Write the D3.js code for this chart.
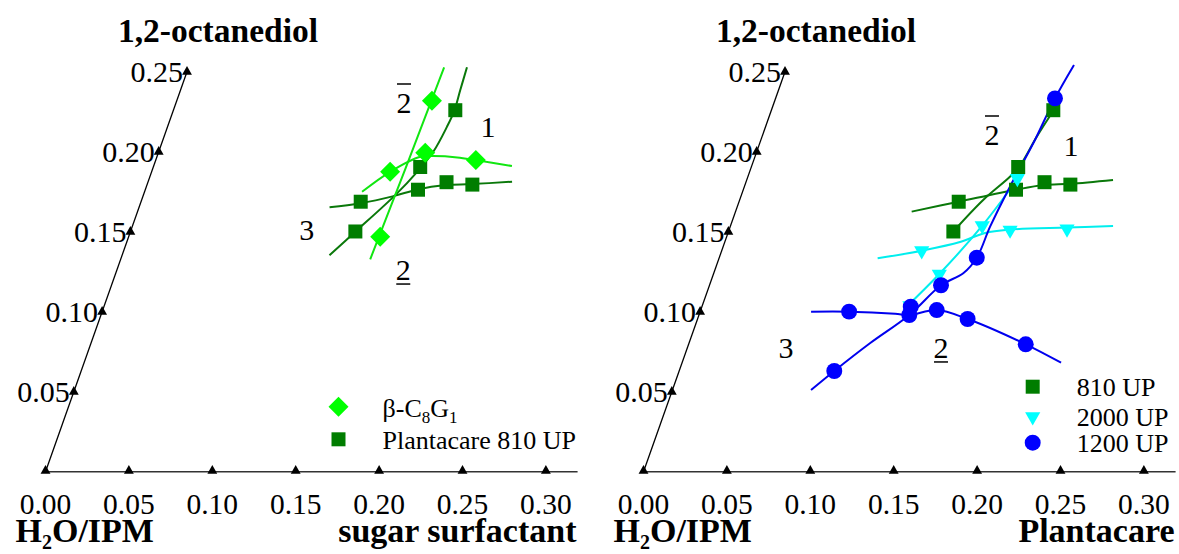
<!DOCTYPE html>
<html>
<head>
<meta charset="utf-8">
<script src="https://cdn.jsdelivr.net/npm/d3@7"></script>
<style>
  html, body { margin: 0; padding: 0; background: #fff; }
  svg { display: block; }
  text { font-family: "Liberation Serif", "Times New Roman", serif; fill: #000; }
</style>
</head>
<body>
<svg id="chart" width="1179" height="554"></svg>
<script>
// ---- Axis ticks -------------------------------------------------------
const surfTicks = [0.00, 0.05, 0.10, 0.15, 0.20, 0.25, 0.30];
const surfTickLabels = ["0.00", "0.05", "0.10", "0.15", "0.20", "0.25", "0.30"];
const diolTicks = [0.05, 0.10, 0.15, 0.20, 0.25];
const diolTickLabels = ["0.05", "0.10", "0.15", "0.20", "0.25"];

// ---- Measured points: [surfactant fraction, 1,2-octanediol fraction] ---
const c8g1Points = [[0.1530, 0.2319], [0.1600, 0.1994], [0.1919, 0.1948], [0.1430, 0.1875], [0.1508, 0.1469]];
const pc810Points = [[0.1690, 0.2260], [0.1600, 0.1905], [0.1635, 0.1763], [0.1790, 0.1810], [0.1950, 0.1795], [0.1317, 0.1688], [0.1348, 0.1502]];
const pc2000Points = [[0.1619, 0.1834], [0.1509, 0.1538], [0.1685, 0.1511], [0.2024, 0.1518], [0.1199, 0.1382], [0.1354, 0.1236], [0.1245, 0.1038]];
const pc1200Points = [[0.1675, 0.2334], [0.1544, 0.1338], [0.1388, 0.1166], [0.1252, 0.1032], [0.1261, 0.0980], [0.0893, 0.1001], [0.1415, 0.1011], [0.1619, 0.0955], [0.2021, 0.0797], [0.0930, 0.0630]];

// ---- Phase boundary curves ---------------------------------------------
const c8g1Upper = [[0.1304, 0.1750], [0.1430, 0.1875], [0.1579, 0.1969], [0.1655, 0.1973], [0.1802, 0.1965], [0.1919, 0.1948], [0.2148, 0.1911]];
const c8g1Steep = [[0.1496, 0.1328], [0.1515, 0.1900], [0.1532, 0.2528]];
const pc810SteepA = [[0.1243, 0.1354], [0.1348, 0.1500], [0.1510, 0.1729], [0.1592, 0.1875], [0.1646, 0.2000], [0.1675, 0.2156], [0.1685, 0.2256], [0.1677, 0.2386], [0.1669, 0.2528]];
const pc810FlatA = [[0.1142, 0.1653], [0.1318, 0.1678], [0.1502, 0.1723], [0.1631, 0.1765], [0.1793, 0.1792], [0.1942, 0.1798], [0.2182, 0.1813]];
const pc810FlatB = [[0.1056, 0.1626], [0.1317, 0.1688], [0.1635, 0.1763], [0.1793, 0.1792], [0.1950, 0.1800], [0.2196, 0.1824]];
const pc810SteepB = [[0.1349, 0.1505], [0.1460, 0.1699], [0.1571, 0.1844], [0.1606, 0.1907], [0.1647, 0.2094], [0.1694, 0.2266]];
const pc2000Flat = [[0.0951, 0.1334], [0.1199, 0.1382], [0.1410, 0.1436], [0.1541, 0.1493], [0.1683, 0.1514], [0.2021, 0.1527], [0.2294, 0.1536]];
const pc2000Steep = [[0.1221, 0.1022], [0.1354, 0.1236], [0.1509, 0.1538], [0.1635, 0.1868]];
const pc1200Steep = [[0.0831, 0.0511], [0.0930, 0.0630], [0.1085, 0.0803], [0.1261, 0.0980], [0.1388, 0.1166], [0.1496, 0.1241], [0.1544, 0.1338], [0.1558, 0.1532], [0.1592, 0.1782], [0.1640, 0.2053], [0.1675, 0.2334], [0.1718, 0.2543]];
const pc1200Flat = [[0.0665, 0.1001], [0.0893, 0.1001], [0.1173, 0.0988], [0.1261, 0.0980], [0.1415, 0.1011], [0.1619, 0.0955], [0.2021, 0.0797], [0.2272, 0.0682]];

// ---- Region labels: [text, surfactant, octanediol, decoration] ---------
const regionLabelsA = [["2", 0.1367, 0.2305, "over"], ["1", 0.1921, 0.2155, ""], ["3", 0.1053, 0.1511, ""], ["2", 0.1717, 0.1261, "under"]];
const regionLabelsB = [["2", 0.1375, 0.2105, "over"], ["1", 0.1872, 0.2036, ""], ["3", 0.0592, 0.0774, ""], ["2", 0.1521, 0.0774, "under"]];

// ---- Colours -----------------------------------------------------------
const C = {
  light: "#00ff00", lightLine: "#11e611",
  dark: "#007d00", darkLine: "#0a780a",
  cyan: "#00ffff", cyanLine: "#00eeee",
  blue: "#0000ff", blueLine: "#0000ee"
};

const svg = d3.select("#chart");
svg.append("rect").attr("width", 1179).attr("height", 554).attr("fill", "#fff");

// Skewed two-axis frame: surfactant along the base, octanediol along a slanted axis
const sScale = d3.scaleLinear().domain([0, 0.30]).range([0, 500.4]);
const oScale = d3.scaleLinear().domain([0, 0.25]).range([0, 400]);
const slant = 566 / 1600;
const baseY = 471.8;
const axisEndS = 0.319;

const sym = {
  square: d3.symbol().type(d3.symbolSquare).size(196)(),
  diamond: d3.symbol().type(d3.symbolSquare).size(200)(),
  triDown: d3.symbol().type(d3.symbolTriangle).size(100)(),
  circle: d3.symbol().type(d3.symbolCircle).size(200)(),
  tick: d3.symbol().type(d3.symbolTriangle).size(42)()
};
const symRotate = { square: 0, diamond: 45, triDown: 180, circle: 0 };

function drawPanel(originX, opts) {
  const g = svg.append("g");
  const px = (s, o) => originX + sScale(s) + slant * oScale(o);
  const py = o => baseY - oScale(o);
  const line = d3.line().x(d => px(d[0], d[1])).y(d => py(d[1])).curve(d3.curveCatmullRom.alpha(0.5));

  // axes
  g.append("line")
    .attr("x1", px(0, 0)).attr("y1", py(0))
    .attr("x2", px(axisEndS, 0)).attr("y2", py(0))
    .attr("stroke", "#333").attr("stroke-width", 1.6);
  g.append("line")
    .attr("x1", px(0, 0)).attr("y1", py(0))
    .attr("x2", px(0, 0.25)).attr("y2", py(0.25))
    .attr("stroke", "#000").attr("stroke-width", 1.3);

  // tick markers
  surfTicks.forEach((t, i) => {
    g.append("path").attr("d", sym.tick)
      .attr("transform", `translate(${px(t, 0)},${py(0) - 1})`).attr("fill", "#000");
    g.append("text").attr("x", px(t, 0)).attr("y", py(0) + 42)
      .attr("text-anchor", "middle").attr("font-size", 29.5).text(surfTickLabels[i]);
  });
  diolTicks.forEach((t, i) => {
    g.append("path").attr("d", sym.tick)
      .attr("transform", `translate(${px(0, t)},${py(t)})`).attr("fill", "#000");
    g.append("text").attr("x", px(0, t) - 4).attr("y", py(t) + 10)
      .attr("text-anchor", "end").attr("font-size", 30).text(diolTickLabels[i]);
  });

  // axis titles
  g.append("text").attr("x", px(0, 0.25) + 31).attr("y", 42)
    .attr("text-anchor", "middle").attr("font-size", 33.5).attr("font-weight", "bold")
    .text("1,2-octanediol");
  const h2o = g.append("text").attr("x", px(0, 0) - 30).attr("y", 542)
    .attr("font-size", 34).attr("font-weight", "bold");
  h2o.append("tspan").text("H");
  h2o.append("tspan").attr("font-size", 20).attr("dy", 7).text("2");
  h2o.append("tspan").attr("dy", -7).text("O/IPM");
  g.append("text").attr("x", px(0, 0) + 531).attr("y", 542)
    .attr("text-anchor", "end").attr("font-size", 34).attr("font-weight", "bold")
    .text(opts.surfTitle);

  // boundary curves
  opts.curves.forEach(c => {
    g.append("path").attr("d", line(c.data))
      .attr("fill", "none").attr("stroke", c.color).attr("stroke-width", 2);
  });

  // measured points
  opts.series.forEach(s => {
    g.selectAll(null).data(s.data).enter().append("path")
      .attr("d", sym[s.shape])
      .attr("transform", d => `translate(${px(d[0], d[1])},${py(d[1])}) rotate(${symRotate[s.shape]})`)
      .attr("fill", s.color);
  });

  // region labels
  opts.labels.forEach(([t, s, o, deco]) => {
    const cx = px(s, o), cy = py(o);
    g.append("text").attr("x", cx).attr("y", cy + 10)
      .attr("text-anchor", "middle").attr("font-size", 30).text(t);
    if (deco === "over") {
      g.append("line").attr("x1", cx - 7).attr("x2", cx + 7)
        .attr("y1", cy - 19).attr("y2", cy - 19).attr("stroke", "#000").attr("stroke-width", 1.5);
    } else if (deco === "under") {
      g.append("line").attr("x1", cx - 7).attr("x2", cx + 7)
        .attr("y1", cy + 14).attr("y2", cy + 14).attr("stroke", "#000").attr("stroke-width", 1.5);
    }
  });

  // legend
  opts.legend.forEach((e, i) => {
    const ly = opts.legendY[i];
    g.append("path").attr("d", sym[e.shape])
      .attr("transform", `translate(${originX + opts.legendX},${ly}) rotate(${symRotate[e.shape]})`)
      .attr("fill", e.color);
    const tx = g.append("text").attr("x", originX + opts.legendX + 44).attr("y", ly + opts.legendBase)
      .attr("font-size", 26);
    e.parts.forEach(p => {
      const ts = tx.append("tspan").text(p[0]);
      if (p[1] === "sub") ts.attr("font-size", 17).attr("dy", 6);
      if (p[1] === "up") ts.attr("dy", -6);
    });
  });
}

// Panel A: beta-C8G1 vs Plantacare 810 UP
drawPanel(45.5, {
  surfTitle: "sugar surfactant",
  curves: [
    { data: pc810SteepA, color: C.darkLine },
    { data: pc810FlatA, color: C.darkLine },
    { data: c8g1Upper, color: C.lightLine },
    { data: c8g1Steep, color: C.lightLine }
  ],
  series: [
    { data: pc810Points, shape: "square", color: C.dark },
    { data: c8g1Points, shape: "diamond", color: C.light }
  ],
  labels: regionLabelsA,
  legend: [
    { shape: "diamond", color: C.light, parts: [["β-C"], ["8", "sub"], ["G", "up"], ["1", "sub"]] },
    { shape: "square", color: C.dark, parts: [["Plantacare 810 UP"]] }
  ],
  legendX: 293, legendY: [406.7, 439.3], legendBase: 10
});

// Panel B: Plantacare grades
drawPanel(643.5, {
  surfTitle: "Plantacare",
  curves: [
    { data: pc810FlatB, color: C.darkLine },
    { data: pc810SteepB, color: C.darkLine },
    { data: pc2000Flat, color: C.cyanLine },
    { data: pc2000Steep, color: C.cyanLine },
    { data: pc1200Flat, color: C.blueLine },
    { data: pc1200Steep, color: C.blueLine }
  ],
  series: [
    { data: pc810Points, shape: "square", color: C.dark },
    { data: pc2000Points, shape: "triDown", color: C.cyan },
    { data: pc1200Points, shape: "circle", color: C.blue }
  ],
  labels: regionLabelsB,
  legend: [
    { shape: "square", color: C.dark, parts: [["810 UP"]] },
    { shape: "triDown", color: C.cyan, parts: [["2000 UP"]] },
    { shape: "circle", color: C.blue, parts: [["1200 UP"]] }
  ],
  legendX: 389.2, legendY: [386.7, 416.7, 442.7], legendBase: 9.5
});
</script>
</body>
</html>
